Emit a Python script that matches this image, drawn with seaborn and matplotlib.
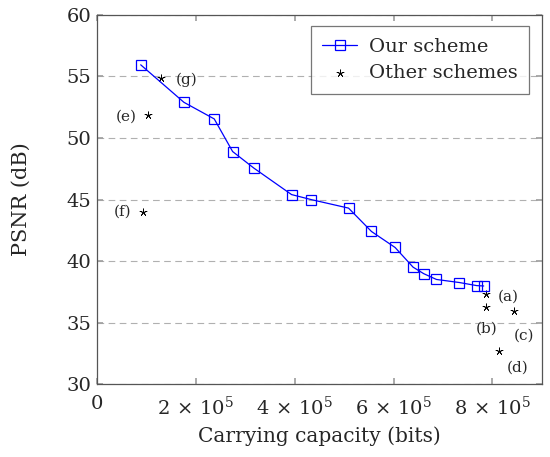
import matplotlib
matplotlib.use("Agg")
import matplotlib.pyplot as plt
import seaborn as sns
import pandas as pd

# our scheme (carrying capacity in bits, PSNR in dB)
our_cap = [88400, 175900, 237200, 274400, 317500, 393700, 432700, 509000,
           555400, 603200, 639600, 661200, 686900, 733400, 768400, 782500]
our_psnr = [55.95, 52.9, 51.55, 48.9, 47.55, 45.4, 45.0, 44.3,
            42.4, 41.1, 39.5, 38.97, 38.5, 38.25, 38.0, 37.97]

# other schemes
other_names = ["(a)", "(b)", "(c)", "(d)", "(e)", "(f)", "(g)"]
other_cap = [788000, 788000, 843000, 813500, 103700, 93600, 130000]
other_psnr = [37.35, 36.27, 35.94, 32.7, 51.9, 44.0, 54.87]

# label offsets in points
label_off = [(15.6, -1.9), (0, -15.6), (7.2, -17.5), (13.7, -12),
             (-15.6, -1.2), (-14.8, 0.4), (18.3, -1.2)]

sns.set_theme(style="ticks")
plt.rcParams['font.family'] = ['DejaVu Serif']
plt.rcParams['mathtext.fontset'] = 'dejavuserif'

ours = pd.DataFrame({"cap": our_cap, "psnr": our_psnr})
others = pd.DataFrame({"cap": other_cap, "psnr": other_psnr, "name": other_names})

fig = plt.figure(figsize=(5.5, 4.57), dpi=100)
ax = fig.add_axes([0.1764, 0.1597, 0.8086, 0.8075])

sns.lineplot(data=ours, x="cap", y="psnr", ax=ax, color="#0000ff", lw=0.9,
             marker="s", markersize=7, markerfacecolor="none",
             markeredgecolor="#0000ff", markeredgewidth=0.9, label="Our scheme")
sns.scatterplot(data=others, x="cap", y="psnr", ax=ax, marker=(5, 2, 0),
                s=28, color="black", linewidth=0.5, label="Other schemes")

for n, x, y, off in zip(other_names, other_cap, other_psnr, label_off):
    ax.annotate(n, (x, y), xytext=off, textcoords="offset points",
                ha="center", va="center", fontsize=11)

ax.set_xlim(0, 900000)
ax.set_ylim(30, 60)
ax.set_xticks([0, 200000, 400000, 600000, 800000])
ax.set_xticklabels(["$0$", r"$2\,\times\,10^5$", r"$4\,\times\,10^5$",
                    r"$6\,\times\,10^5$", r"$8\,\times\,10^5$"])
ax.set_yticks([30, 35, 40, 45, 50, 55, 60])
ax.yaxis.grid(True, ls=(0, (6, 4)), color="#b0b0b0", lw=0.8)
ax.tick_params(direction="in", top=True, right=True, length=4,
               color="#a0a0a0", labelsize=14)
ax.tick_params(axis="x", pad=8)
ax.tick_params(axis="y", pad=4)
for s in ax.spines.values():
    s.set_color("#555555")
    s.set_linewidth(0.9)

ax.set_xlabel("Carrying capacity (bits)", fontsize=14.5, labelpad=6)
ax.set_ylabel("PSNR (dB)", fontsize=15, labelpad=26)

leg = ax.legend(loc="upper right", bbox_to_anchor=(0.972, 0.970), fontsize=14,
                frameon=True, fancybox=False, edgecolor="#555555",
                borderpad=0.6, borderaxespad=0, handlelength=1.8,
                labelspacing=0.45, handletextpad=0.6)
leg.get_frame().set_linewidth(0.9)

fig.savefig("out.png", dpi=100)
